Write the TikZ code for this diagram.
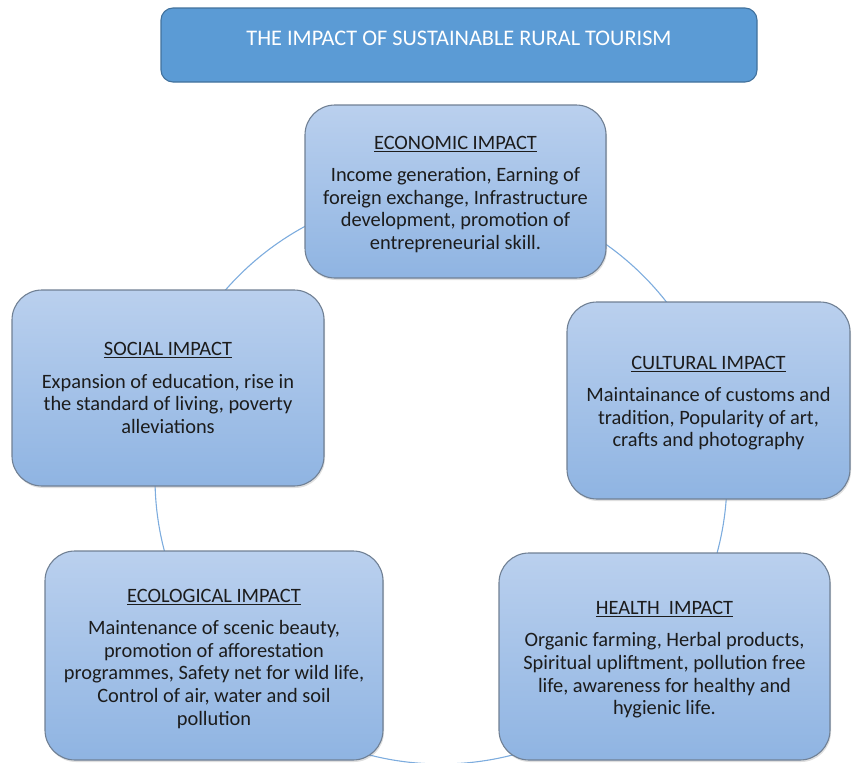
\documentclass[tikz,border=0pt]{standalone}
\usepackage{fontspec}
\setmainfont{Carlito}
\usetikzlibrary{shadows}
\definecolor{ringblue}{RGB}{125,172,222}
\definecolor{boxtop}{RGB}{186,208,238}
\definecolor{boxbot}{RGB}{143,180,226}
\definecolor{boxedge}{RGB}{112,128,148}
\definecolor{titlefill}{RGB}{91,155,213}
\definecolor{titleedge}{RGB}{65,113,156}
\definecolor{txt}{RGB}{28,28,28}
\begin{document}
\begin{tikzpicture}[x=1pt,y=-1pt,
  impactbox/.style={draw=boxedge, line width=1.1pt, rounded corners=30pt,
    top color=boxtop, bottom color=boxbot, inner sep=0pt,
    drop shadow={shadow xshift=1pt,shadow yshift=-2pt,opacity=0.25},
    text=txt, align=center, font=\fontsize{20.4}{22.6}\selectfont},
  titlebox/.style={draw=titleedge, line width=1.1pt, rounded corners=12pt,
    fill=titlefill, inner sep=0pt},
  titletext/.style={text=white, font=\fontsize{22.3}{24}\selectfont, inner sep=0pt}]
\useasboundingbox (0,0) rectangle (852,763);
\draw[ringblue, line width=1.1pt] (441,478) circle[radius=286pt];
\node[titlebox, minimum width=596pt, minimum height=74pt] (title) at (459,45) {};
\node[titletext] (titlelabel) at (459,38) {THE IMPACT OF SUSTAINABLE RURAL TOURISM};
\node[impactbox, minimum width=301pt, minimum height=173pt] (econ) at (455.5,191.5)
  {\rule{0pt}{19pt}\underline{ECONOMIC IMPACT}\\[9.5pt]Income generation, Earning of\\foreign exchange, Infrastructure\\development, promotion of\\entrepreneurial skill.};
\node[impactbox, minimum width=312pt, minimum height=196pt] (social) at (168,388)
  {\underline{SOCIAL IMPACT}\\[9.5pt]Expansion of education, rise in\\the standard of living, poverty\\alleviations};
\node[impactbox, minimum width=283pt, minimum height=197pt] (cultural) at (708.5,400.5)
  {\rule{0pt}{19pt}\underline{CULTURAL IMPACT}\\[9.5pt]Maintainance of customs and\\tradition, Popularity of art,\\crafts and photography};
\node[impactbox, minimum width=338pt, minimum height=209pt] (eco) at (214,655.5)
  {\rule{0pt}{20pt}\underline{ECOLOGICAL IMPACT}\\[9.5pt]Maintenance of scenic beauty,\\promotion of afforestation\\programmes, Safety net for wild life,\\Control of air, water and soil\\pollution};
\node[impactbox, minimum width=331pt, minimum height=207pt] (health) at (664.5,656.5)
  {\rule{0pt}{20pt}\underline{HEALTH~~IMPACT}\\[9.5pt]Organic farming, Herbal products,\\Spiritual upliftment, pollution free\\life, awareness for healthy and\\hygienic life.};
\end{tikzpicture}
\end{document}
